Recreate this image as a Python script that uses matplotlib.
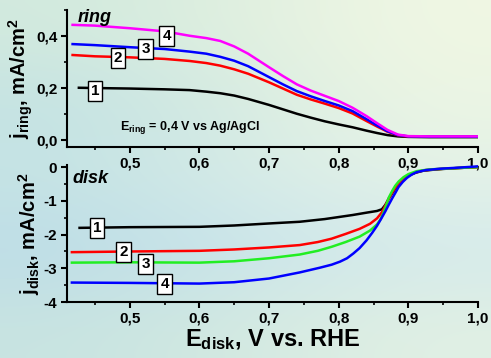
import numpy as np
import matplotlib
matplotlib.use("Agg")
import matplotlib.pyplot as plt
from matplotlib.ticker import MultipleLocator, FuncFormatter

plt.rcParams['font.family'] = ['Liberation Sans', 'DejaVu Sans']
plt.rcParams['font.weight'] = 'bold'
plt.rcParams['axes.labelweight'] = 'bold'
plt.rcParams['mathtext.fontset'] = 'custom'
plt.rcParams['mathtext.rm'] = 'Liberation Sans:bold'
plt.rcParams['mathtext.bf'] = 'Liberation Sans:bold'
plt.rcParams['mathtext.it'] = 'Liberation Sans:bold:italic'

# ring currents, mA/cm2
e_ring = [0.418, 0.45, 0.50, 0.55, 0.586, 0.61, 0.63, 0.65, 0.67, 0.70, 0.72, 0.74,
          0.76, 0.78, 0.80, 0.82, 0.84, 0.855, 0.87, 0.885, 0.90, 0.93, 1.00]
e_ring1 = [0.427] + e_ring[1:]
ring_1 = [0.201, 0.200, 0.198, 0.195, 0.192, 0.186, 0.180, 0.171, 0.158, 0.135, 0.118, 0.101,
          0.086, 0.072, 0.060, 0.049, 0.036, 0.027, 0.019, 0.014, 0.012, 0.011, 0.011]
ring_2 = [0.327, 0.322, 0.318, 0.312, 0.304, 0.296, 0.286, 0.272, 0.255, 0.222, 0.198, 0.174,
          0.156, 0.140, 0.123, 0.102, 0.073, 0.052, 0.032, 0.018, 0.013, 0.013, 0.013]
ring_3 = [0.369, 0.365, 0.357, 0.350, 0.340, 0.332, 0.320, 0.305, 0.284, 0.242, 0.214, 0.188,
          0.168, 0.150, 0.133, 0.111, 0.080, 0.056, 0.034, 0.019, 0.014, 0.013, 0.013]
ring_4 = [0.443, 0.440, 0.430, 0.418, 0.401, 0.392, 0.381, 0.360, 0.332, 0.280, 0.246, 0.214,
          0.190, 0.170, 0.150, 0.124, 0.092, 0.065, 0.039, 0.021, 0.015, 0.014, 0.014]

# disk currents, mA/cm2
e_disk1 = [0.428, 0.50, 0.60, 0.65, 0.70, 0.744, 0.78, 0.80, 0.82, 0.84, 0.855, 0.862, 0.867,
           0.872, 0.877, 0.881, 0.886, 0.891, 0.896, 0.902, 0.91, 0.921, 0.935, 0.95, 0.97, 1.00]
disk_1 = [-1.80, -1.78, -1.77, -1.73, -1.67, -1.62, -1.54, -1.48, -1.42, -1.35, -1.30, -1.25, -1.12,
          -0.93, -0.77, -0.64, -0.52, -0.42, -0.32, -0.24, -0.17, -0.11, -0.08, -0.055, -0.03, 0.0]
e_disk2 = [0.417, 0.50, 0.60, 0.65, 0.70, 0.744, 0.77, 0.79, 0.81, 0.83, 0.845, 0.855, 0.862, 0.867,
           0.872, 0.877, 0.881, 0.886, 0.891, 0.896, 0.902, 0.91, 0.921, 0.935, 0.95, 0.97, 1.00]
disk_2 = [-2.52, -2.50, -2.48, -2.44, -2.38, -2.31, -2.22, -2.12, -1.98, -1.83, -1.68, -1.52, -1.34, -1.14,
          -0.93, -0.75, -0.62, -0.50, -0.40, -0.31, -0.23, -0.16, -0.10, -0.07, -0.05, -0.03, 0.0]
e_disk3 = [0.417, 0.50, 0.60, 0.65, 0.70, 0.744, 0.77, 0.79, 0.81, 0.83, 0.845, 0.855, 0.86, 0.864,
           0.868, 0.872, 0.877, 0.881, 0.886, 0.893, 0.90, 0.912, 0.93, 0.95, 0.97, 1.00]
disk_3 = [-2.83, -2.82, -2.83, -2.79, -2.70, -2.59, -2.48, -2.36, -2.22, -2.06, -1.88, -1.70, -1.55, -1.36,
          -1.14, -0.90, -0.70, -0.56, -0.43, -0.30, -0.21, -0.12, -0.07, -0.05, -0.03, 0.0]
e_disk4 = [0.417, 0.50, 0.60, 0.65, 0.70, 0.744, 0.773, 0.79, 0.802, 0.812, 0.821, 0.83, 0.84, 0.848,
           0.855, 0.861, 0.867, 0.872, 0.877, 0.882, 0.886, 0.892, 0.898, 0.905, 0.912, 0.925, 0.945,
           0.97, 1.00]
disk_4 = [-3.42, -3.43, -3.45, -3.41, -3.30, -3.12, -2.98, -2.89, -2.80, -2.70, -2.56, -2.40, -2.17, -1.95,
          -1.74, -1.53, -1.31, -1.11, -0.92, -0.74, -0.59, -0.44, -0.32, -0.22, -0.15, -0.09, -0.05,
          -0.02, 0.02]

ring_labels = [("1", 0.450, 0.19), ("2", 0.483, 0.315), ("3", 0.523, 0.35), ("4", 0.553, 0.40)]
disk_labels = [("1", 0.453, -1.81), ("2", 0.491, -2.52), ("3", 0.523, -2.87), ("4", 0.550, -3.47)]

fig = plt.figure(figsize=(4.91, 3.58), dpi=100)

# soft background wash
bg = np.array([
    [(210, 234, 222), (225, 240, 224), (240, 247, 228)],
    [(195, 226, 228), (215, 236, 226), (235, 245, 228)],
    [(198, 228, 228), (215, 236, 232), (228, 242, 232)],
    [(188, 220, 232), (200, 228, 235), (212, 234, 236)],
    [(200, 228, 225), (212, 234, 225), (225, 240, 228)],
]) / 255.0
bga = fig.add_axes([0, 0, 1, 1], zorder=-10)
bga.imshow(bg, aspect='auto', interpolation='bicubic', extent=[0, 1, 0, 1])
bga.axis('off')

ax1 = fig.add_axes([0.1365, 0.590, 0.837, 0.382])
ax2 = fig.add_axes([0.1365, 0.156, 0.837, 0.383])

comma = FuncFormatter(lambda v, p: f"{v:.1f}".replace('.', ','))
for ax in (ax1, ax2):
    ax.patch.set_alpha(0)
    ax.spines['top'].set_visible(False)
    ax.spines['right'].set_visible(False)
    for s in ('left', 'bottom'):
        ax.spines[s].set_linewidth(1.5)
    ax.set_xlim(0.41, 1.0)
    ax.xaxis.set_major_locator(MultipleLocator(0.1))
    ax.xaxis.set_minor_locator(MultipleLocator(0.05))
    ax.xaxis.set_major_formatter(comma)
    ax.tick_params(which='major', direction='out', length=4, width=1.5,
                   labelsize=11, pad=3)
    ax.tick_params(which='minor', direction='out', length=2.5, width=1.2)

lw = 1.8
ax1.plot(e_ring1, ring_1, color='black', lw=lw)
ax1.plot(e_ring, ring_2, color='#ff0000', lw=lw)
ax1.plot(e_ring, ring_3, color='#0000ff', lw=lw)
ax1.plot(e_ring, ring_4, color='#ff00ff', lw=lw)
ax1.set_ylim(-0.026, 0.5)
ax1.yaxis.set_major_locator(MultipleLocator(0.2))
ax1.yaxis.set_minor_locator(MultipleLocator(0.1))
ax1.yaxis.set_major_formatter(comma)
ax1.set_ylabel(r"$\mathbf{j_{ring}}$, mA/cm$^\mathbf{2}$", fontsize=14.5, labelpad=1)

ax2.plot(e_disk1, disk_1, color='black', lw=lw)
ax2.plot(e_disk2, disk_2, color='#ff0000', lw=lw)
ax2.plot(e_disk3, disk_3, color='#22ee22', lw=lw)
ax2.plot(e_disk4, disk_4, color='#0000ff', lw=lw)
ax2.set_ylim(-4, 0.06)
ax2.yaxis.set_major_locator(MultipleLocator(1))
ax2.yaxis.set_minor_locator(MultipleLocator(0.5))
ax2.yaxis.set_major_formatter(FuncFormatter(lambda v, p: f"{v:.0f}"))
ax2.set_ylabel(r"$\mathbf{j_{disk}}$, mA/cm$^\mathbf{2}$", fontsize=14.5, labelpad=1)
ax2.set_xlabel(r"$\mathbf{E_{disk}}$, V vs. RHE", fontsize=17, labelpad=1)

box = dict(boxstyle='square,pad=0.2', fc='white', ec='black', lw=1.0)
for ax, labels in ((ax1, ring_labels), (ax2, disk_labels)):
    for t, x, y in labels:
        ax.text(x, y, t, fontsize=11, ha='center', va='center', bbox=box, zorder=5)

ax1.text(0.426, 0.47, "ring", fontsize=13, style='italic', fontweight='bold',
         ha='left', va='center')
ax2.text(0.418, -0.33, "disk", fontsize=13, style='italic', fontweight='bold',
         ha='left', va='center')
ax1.text(0.486, 0.05, r"$\mathbf{E_{ring}}$ = 0,4 V vs Ag/AgCl", fontsize=9,
         ha='left', va='center')

fig.savefig("out.png", dpi=100)
